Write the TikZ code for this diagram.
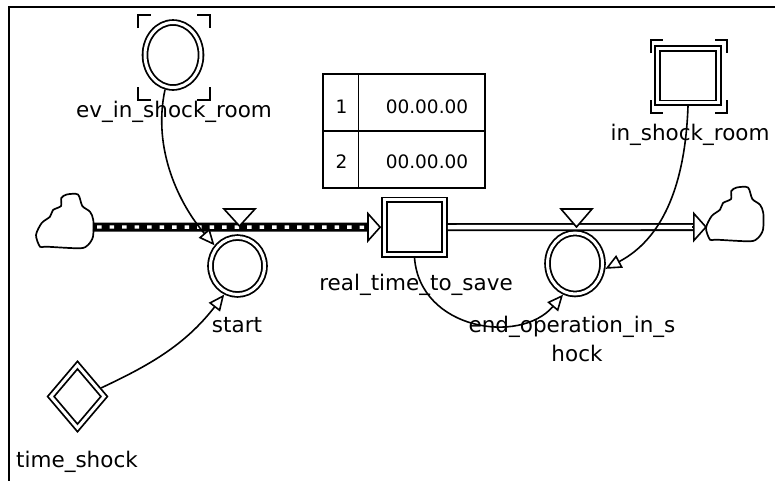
\documentclass[tikz,border=0pt]{standalone}
\usepackage{fontspec}
\setmainfont{DejaVu Sans}
\usetikzlibrary{shapes.geometric,arrows.meta,calc}

\begin{document}
\begin{tikzpicture}[x=1pt,y=-1pt,
  dbl/.style={draw, line width=1.8pt, double=white, double distance=3.0pt,
              inner sep=0pt, outer sep=3.3pt},
  conv/.style={dbl, ellipse},
  stockbox/.style={dbl, rectangle},
  lbl/.style={font=\fontsize{21.5}{25}\selectfont, inner sep=0pt, anchor=base},
  tbltxt/.style={font=\fontsize{18.5}{22}\selectfont, inner sep=0pt, anchor=base},
  link/.style={line width=1.6pt,
               -{Triangle[length=16pt,width=14pt,fill=white,line width=1.6pt]}},
  flowtip/.style={line width=1.6pt,
               -{Triangle[length=14pt,width=31pt,fill=white,line width=1.6pt]}},
  pipe/.style={line width=1.8pt, double=white, double distance=4.4pt},
  valve/.style={line width=1.6pt, fill=white},
  corner/.style={line width=2pt},
  cloudpic/.pic={
    \draw[line width=1.7pt, fill=white] plot[smooth cycle, tension=0.45] coordinates {
      (-24.5,25.2) (-28.5,13.5) (-22.8,1.5) (-14.5,-4.8) (-11.5,-11.5)
      (-3.5,-15.5) (-3.2,-23.5) (2.2,-27) (13.5,-27) (17.8,-15.5)
      (25.5,-9.8) (28.8,-1.5) (28.5,15.2) (23.5,23.5) (15.5,26.8) (-17.8,25.2)};
  }
]
\useasboundingbox (0,0) rectangle (775,480);

% outer frame
\draw[line width=2.3pt] (8.7,481) -- (8.7,6.8) -- (776,6.8);

% stocks, converters and the constant
\node[stockbox, minimum width=60pt, minimum height=54.5pt] (stock) at (414.5,227.2) {};
\node[stockbox, minimum width=60.5pt, minimum height=54.5pt] (isr) at (688,75.6) {};
\node[conv, minimum width=56pt, minimum height=65pt] (ev) at (173,55) {};
\node[conv, minimum width=54pt, minimum height=57pt] (start) at (237.5,266) {};
\node[conv, minimum width=55pt, minimum height=61pt] (endop) at (575,263.5) {};
\node[dbl, diamond, minimum width=56pt, minimum height=65.5pt] (ts) at (77.5,396.5) {};

% ghost brackets
\draw[corner] (138,28) -- (138,15) -- (151,15);
\draw[corner] (197,15) -- (210,15) -- (210,28);
\draw[corner] (138,87) -- (138,100) -- (151,100);
\draw[corner] (197,100) -- (210,100) -- (210,87);
\draw[corner] (651,53) -- (651,40) -- (663,40);
\draw[corner] (715,40) -- (727,40) -- (727,53);
\draw[corner] (651,100) -- (651,113) -- (663,113);
\draw[corner] (715,113) -- (727,113) -- (727,100);

% labels
\node[lbl] (evl) at (174,117.5) {ev\_in\_shock\_room};
\node[lbl] (isrl) at (690,140) {in\_shock\_room};
\node[lbl] (stockl) at (416,290) {real\_time\_to\_save};
\node[lbl] (startl) at (237,332) {start};
\node[lbl] (endopl) at (572,332) {end\_operation\_in\_s};
\node[lbl] (endopm) at (577,361) {hock};
\node[lbl] (tsl) at (77,467) {time\_shock};

% table
\node[draw, line width=1.5pt, minimum width=162pt, minimum height=114pt, inner sep=0pt] (tbl) at (404,131) {};
\draw[line width=1.5pt] ($(tbl.north west)+(36,0)$) -- ($(tbl.south west)+(36,0)$);
\draw[line width=2pt] (tbl.west) -- (tbl.east);
\node[tbltxt] (r1a) at (341.5,113) {1};
\node[tbltxt] (r1b) at (427,113) {00.00.00};
\node[tbltxt] (r2a) at (341.5,168) {2};
\node[tbltxt] (r2b) at (427,168) {00.00.00};

% clouds
\pic at (64.5,221.5) {cloudpic};
\pic at (734.5,214.5) {cloudpic};
\coordinate (srcL) at (93,227);
\coordinate (sinkR) at (707,227);

% inflow pipe (hatched)
\draw[line width=9pt] (srcL) -- ($(stock.west)+(-14,0)$);
\draw[white, line width=3.4pt, dash pattern=on 4.5pt off 8pt] ($(srcL)+(4,0)$) -- ($(stock.west)+(-15,0)$);
\draw[flowtip] ($(stock.west)+(-15,0)$) -- (stock.west);

% outflow pipe
\draw[pipe] (stock.east) -- ($(sinkR)+(-14,0)$);
\draw[flowtip] ($(sinkR)+(-15,0)$) -- (sinkR);

% valves
\draw[valve] (224,209) -- (255,209) -- (239.5,226) -- cycle;
\draw[valve] (561,209) -- (592,209) -- (576.5,227) -- cycle;

% information links
\draw[link] (ev.257) .. controls (152,150) and (180,205) .. (start.138);
\draw[link] (ts.20) .. controls (150,365) and (185,345) .. (start.245);
\draw[link] (isr.south) .. controls (685,190) and (660,240) .. (endop.350);
\draw[link] (stock.south) .. controls (420,330) and (520,345) .. (endop.249);
\end{tikzpicture}
\end{document}
